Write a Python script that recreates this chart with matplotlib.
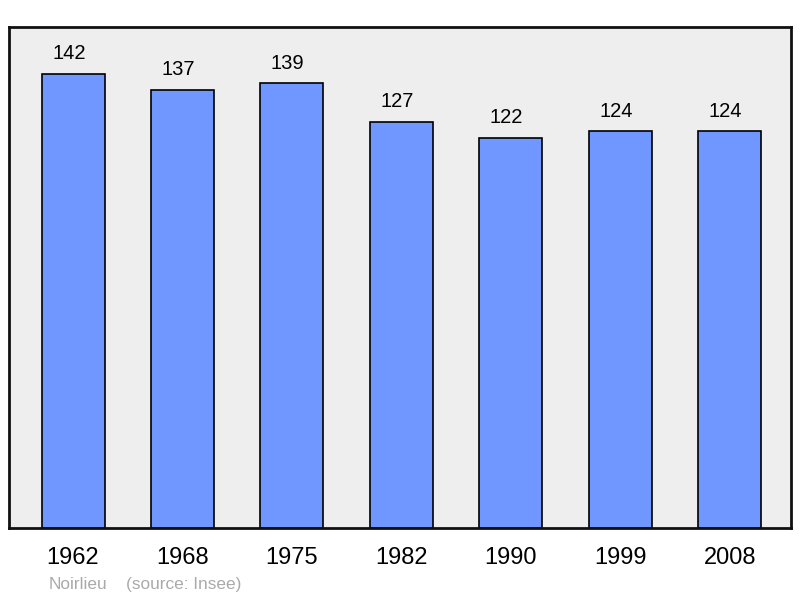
import matplotlib.pyplot as plt

plt.rcParams['font.family'] = ['Liberation Sans', 'DejaVu Sans']

# données
years = ['1962', '1968', '1975', '1982', '1990', '1999', '2008']
population = [142, 137, 139, 127, 122, 124, 124]
commune = 'Noirlieu'
source = '(source: Insee)'

fig = plt.figure(figsize=(8, 5.98), dpi=100)
ax = fig.add_axes([9/800, 1-528/598, 782/800, 501/598])
ax.set_facecolor('#eeeeee')

x = range(len(years))
ax.bar(x, population, width=0.576, color='#7096ff', edgecolor='black', linewidth=1.2, zorder=2)

# valeurs au-dessus des barres
for i, v in zip(x, population):
    ax.annotate(str(v), (i, v), xytext=(-3, 7.5), textcoords='offset points',
                ha='center', va='bottom', fontsize=14.5)

ax.set_xlim(-0.585, 6.56)
ax.set_ylim(0, 156.6)
ax.set_xticks(list(x))
ax.set_xticklabels(years, fontsize=17)
ax.set_yticks([])
ax.tick_params(axis='x', length=0, pad=13.5)
for s in ax.spines.values():
    s.set_linewidth(2)
    s.set_color('#111111')

# pied de page
fig.text(49/800, 1-589/598, commune, color='#aaaaaa', fontsize=12.4, ha='left', va='baseline')
fig.text(126/800, 1-589/598, source, color='#aaaaaa', fontsize=12.4, ha='left', va='baseline')

plt.savefig('out.png', dpi=100)
